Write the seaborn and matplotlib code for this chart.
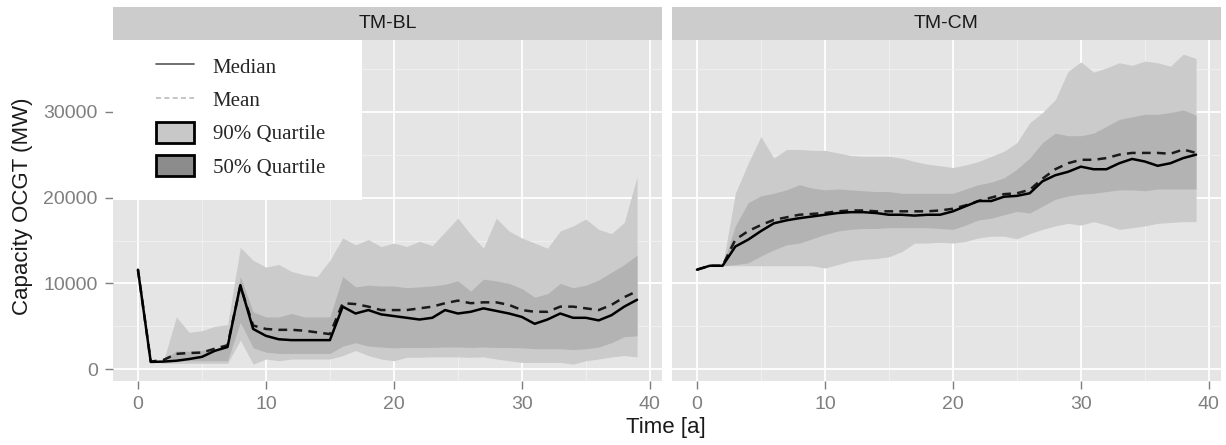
import numpy as np
import matplotlib
matplotlib.use("Agg")
import matplotlib.pyplot as plt
import seaborn as sns
from matplotlib.lines import Line2D
from matplotlib.patches import Patch, Rectangle

nan = np.nan

# -------------------------------
# Data
# -------------------------------
years = list(range(40))
panels = ["TM-BL", "TM-CM"]

# TM-BL
bl_median = [11600, 860, 900, 1000, 1200, 1450, 2150, 2600, 9800, 4700,
             3900, 3500, 3400, 3400, 3400, 3400, 7300, 6500, 6900, 6400,
             6200, 6000, 5800, 6000, 6900, 6500, 6700, 7100, 6800, 6500,
             6100, 5300, 5800, 6500, 6000, 6000, 5700, 6300, 7300, 8100]
bl_mean = [11600, 900, 1100, 1800, 1900, 1950, 2400, 2800, 9700, 5100,
           4700, 4600, 4600, 4500, 4300, 4100, 7700, 7600, 7300, 6900,
           6900, 6900, 7100, 7300, 7700, 8000, 7700, 7800, 7800, 7500,
           6900, 6700, 6700, 7300, 7300, 7100, 6900, 7500, 8400, 9100]
bl_q95 = [nan, 900, 1000, 6100, 4300, 4500, 5000, 5200, 14200, 12700,
          11900, 12200, 11400, 11000, 10800, 12700, 15300, 14500, 15100, 14300,
          14700, 14300, 14900, 14400, 16000, 17600, 15700, 14100, 17600, 16100,
          15300, 14700, 14100, 16100, 16700, 17500, 16300, 15800, 17100, 22400]
bl_q05 = [nan, 860, 700, 700, 700, 700, 700, 700, 3400, 600,
          1200, 1000, 1200, 1200, 1200, 1200, 1600, 2200, 1600, 1200,
          1000, 1400, 1400, 1450, 1450, 1450, 1400, 1450, 1200, 1000,
          800, 800, 800, 800, 600, 1000, 1200, 1450, 1600, 1450]
bl_q75 = [nan, 900, 1050, 2150, 2100, 2200, 2350, 2550, 10800, 6700,
          6100, 6100, 6500, 6100, 6100, 6100, 10800, 9600, 9800, 9700,
          9700, 9500, 9600, 9700, 9900, 10300, 9100, 10500, 10300, 10000,
          9400, 8400, 8800, 10000, 9500, 9800, 10400, 11300, 12200, 13300]
bl_q25 = [nan, 860, 900, 950, 1000, 1000, 1000, 1000, 5500, 2500,
          2000, 1850, 1850, 1850, 1850, 1850, 2700, 3100, 2700, 2600,
          2500, 2550, 2550, 2550, 2600, 2600, 2550, 2600, 2550, 2550,
          2500, 2400, 2400, 2400, 2300, 2400, 2600, 3100, 3800, 3900]

# TM-CM
cm_median = [11600, 12060, 12060, 14300, 15100, 16100, 17000, 17350, 17600, 17800,
             18000, 18200, 18300, 18300, 18200, 18000, 18000, 17900, 18000, 18000,
             18400, 19000, 19600, 19600, 20100, 20200, 20500, 21900, 22600, 23000,
             23600, 23300, 23300, 24000, 24500, 24200, 23700, 24000, 24600, 25000]
cm_mean = [11600, 12060, 12060, 15100, 16100, 16800, 17400, 17700, 18000, 18100,
           18200, 18400, 18500, 18500, 18400, 18400, 18400, 18400, 18400, 18500,
           18700, 19100, 19600, 20000, 20400, 20500, 20900, 22200, 23300, 24000,
           24400, 24400, 24600, 25000, 25200, 25200, 25200, 25100, 25600, 25200]
cm_q95 = [nan, nan, 12060, 20500, 24000, 27100, 24600, 25600, 25600, 25500,
          25500, 25200, 24900, 24800, 24800, 24800, 24600, 24200, 23900, 23700,
          23500, 23800, 24200, 24800, 25400, 26400, 28700, 29900, 31400, 34700,
          35800, 34600, 35100, 35700, 35400, 35900, 35700, 35300, 36700, 36200]
cm_q05 = [nan, nan, 12060, 12060, 12060, 12060, 12060, 12060, 12060, 12060,
          11800, 12200, 12600, 12800, 12900, 13100, 13700, 14700, 14700, 14800,
          14700, 14900, 15300, 15500, 15500, 15200, 15800, 16300, 16700, 17000,
          16800, 17200, 16800, 16300, 16500, 16700, 17000, 17100, 17200, 17200]
cm_q75 = [nan, nan, 12060, 16700, 19400, 20200, 20500, 20900, 21500, 21100,
          20900, 21000, 20900, 20800, 20700, 20700, 20500, 20500, 20500, 20500,
          20500, 21000, 21500, 21800, 22300, 23300, 24600, 26400, 27500, 27200,
          27200, 27500, 28300, 29100, 29400, 29700, 29700, 29900, 30200, 29600]
cm_q25 = [nan, nan, 12060, 12200, 12400, 13200, 13900, 14500, 14700, 15200,
          15700, 16100, 16300, 16400, 16400, 16500, 16500, 16500, 16500, 16400,
          16300, 16800, 17400, 17600, 18000, 18400, 18200, 19000, 19800, 20200,
          20400, 20500, 20700, 20900, 20900, 20800, 21000, 21000, 21000, 21000]

x_ticks = [0, 10, 20, 30, 40]
y_ticks = [0, 10000, 20000, 30000]

# -------------------------------
# Style (ggplot-like grey theme)
# -------------------------------
sns.set_theme(style="darkgrid", rc={"axes.facecolor": "#E5E5E5",
                                    "grid.color": "white"})
plt.rcParams["font.family"] = ["Liberation Sans", "DejaVu Sans"]

col90 = "#CBCBCB"
col50 = "#B3B3B3"
tick_grey = "#7F7F7F"

W, H = 1226, 445
fig = plt.figure(figsize=(W / 100, H / 100), dpi=100)
fig.patch.set_facecolor("white")

panel_left = [113, 672]
panel_w = 549
top_px, bot_px, strip_top = 40, 381, 7

data = {
    "TM-BL": (bl_median, bl_mean, bl_q05, bl_q95, bl_q25, bl_q75),
    "TM-CM": (cm_median, cm_mean, cm_q05, cm_q95, cm_q25, cm_q75),
}

axes = []
for i, name in enumerate(panels):
    x0 = panel_left[i]
    ax = fig.add_axes([x0 / W, 1 - bot_px / H, panel_w / W, (bot_px - top_px) / H])
    med, mean, q05, q95, q25, q75 = data[name]

    # 90% and 50% bands
    ax.fill_between(years, np.array(q05, float), np.array(q95, float),
                    color=col90, lw=0, zorder=1)
    ax.fill_between(years, np.array(q25, float), np.array(q75, float),
                    color=col50, lw=0, zorder=2)
    sns.lineplot(x=years, y=mean, ax=ax, color="#1a1a1a", lw=1.8,
                 linestyle=(0, (3.5, 2.5)), zorder=3)
    sns.lineplot(x=years, y=med, ax=ax, color="black", lw=1.8, zorder=4)

    ax.set_xlim(-1.95, 40.95)
    ax.set_ylim(-1360, 38350)
    ax.set_xticks(x_ticks)
    ax.set_xticks([5, 15, 25, 35], minor=True)
    ax.set_yticks(y_ticks)
    ax.set_yticks([5000, 15000, 25000, 35000], minor=True)
    ax.grid(which="major", color="white", lw=1.3)
    ax.grid(which="minor", color="#F2F2F2", lw=0.6)
    ax.set_axisbelow(True)
    for s in ax.spines.values():
        s.set_visible(False)
    ax.tick_params(which="minor", length=0)
    ax.tick_params(axis="x", which="major", bottom=True, length=6, width=1,
                   color=tick_grey, labelcolor=tick_grey, labelsize=14, pad=5)
    if i == 0:
        ax.tick_params(axis="y", which="major", left=True, length=6, width=1,
                       color=tick_grey, labelcolor=tick_grey, labelsize=14, pad=5)
    else:
        ax.tick_params(axis="y", which="major", left=False, labelleft=False)
    ax.set_xlabel("")
    ax.set_ylabel("")

    # facet strip
    sax = fig.add_axes([x0 / W, 1 - top_px / H, panel_w / W, (top_px - strip_top) / H])
    sax.set_facecolor("#CCCCCC")
    sax.set_xticks([])
    sax.set_yticks([])
    sax.grid(False)
    for s in sax.spines.values():
        s.set_visible(False)
    sax.text(0.5, 0.5, name, ha="center", va="center", fontsize=14,
             color="#1A1A1A", transform=sax.transAxes)
    axes.append(ax)

ax1 = axes[0]
ax1.set_ylabel("Capacity OCGT (MW)", fontsize=16, color="#1A1A1A")
ax1.yaxis.set_label_coords(-0.146, 0.513)
fig.text(666 / W, 1 - 433 / H, "Time [a]", ha="center", va="baseline",
         fontsize=16, color="#1A1A1A")

# legend inside the left panel (white box)
ax1.add_patch(Rectangle((0, 1 - 160 / 341), 249 / 549, 160 / 341,
                        transform=ax1.transAxes, facecolor="white",
                        edgecolor="none", zorder=5))
handles = [
    Line2D([], [], color="#555555", lw=1.2),
    Line2D([], [], color="#BBBBBB", lw=1.2, linestyle=(0, (3, 2))),
    Patch(facecolor="#C8C8C8", edgecolor="black", lw=2),
    Patch(facecolor="#8C8C8C", edgecolor="black", lw=2),
]
labels = ["Median", "Mean", "90% Quartile", "50% Quartile"]
leg = ax1.legend(handles, labels, loc="upper left", bbox_to_anchor=(0.06, 0.985),
                 frameon=False, prop={"family": "Liberation Serif", "size": 15},
                 handlelength=1.8, handleheight=1.2, handletextpad=0.9,
                 labelspacing=0.5, borderpad=0)
leg.set_zorder(6)

fig.savefig("out.png", dpi=100)
